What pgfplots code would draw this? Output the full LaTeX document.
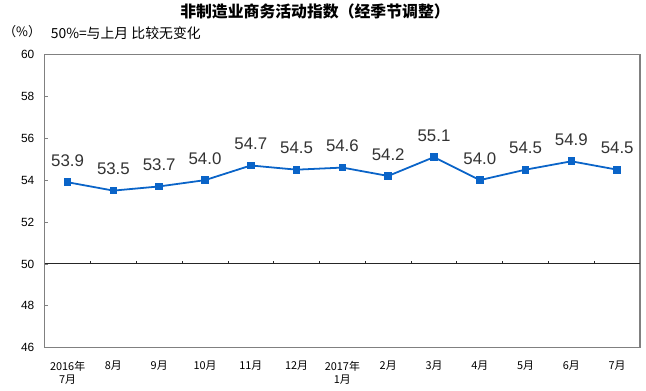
\documentclass[border=0pt]{standalone}
\usepackage{pgfplots}
\pgfplotsset{compat=1.18}
\usepackage{fontspec}
\setmainfont{Liberation Sans}
\newfontfamily\cjk{Noto Sans CJK SC}
\definecolor{lineblue}{HTML}{0A64C8}
\definecolor{boxgray}{HTML}{808080}
\definecolor{lblgray}{HTML}{333333}
\begin{document}
\begin{tikzpicture}
\begin{axis}[
 scale only axis, width=601bp, height=296bp,
 xmin=-0.5, xmax=12.5, ymin=46, ymax=60,
 ytick={46,48,...,60},
 xtick={0,...,12},
 xticklabels={{2016年\\7月},8月,9月,10月,11月,12月,{2017年\\1月},2月,3月,4月,5月,6月,7月},
 xticklabel style={font=\cjk\fontsize{11bp}{13bp}\selectfont, align=center, anchor=north, yshift=-10bp},
 x tick style={draw=none},
 major tick length=3bp,
 ytick pos=left, tick align=inside,
 y tick style={boxgray, line width=0.8bp},
 yticklabel style={font=\fontsize{12bp}{14bp}\selectfont, xshift=-7bp},
 /pgf/number format/assume math mode=true,
 axis line style={boxgray, line width=1.2bp},
 clip=false,
 nodes near coords,
 point meta=y,
 nodes near coords style={/pgf/number format/fixed, /pgf/number format/fixed zerofill, /pgf/number format/precision=1, font=\fontsize{17bp}{19bp}\selectfont, text=lblgray, inner sep=0pt, yshift=15bp},
]
\draw[black!85, line width=1bp] (axis cs:-0.5,50) -- (axis cs:12.5,50);
\pgfplotsinvokeforeach{0.5,1.5,2.5,3.5,4.5,5.5,6.5,7.5,8.5,9.5,10.5,11.5}{
  \draw[black!85, line width=0.8bp] (axis cs:#1,50) -- ([yshift=3bp]axis cs:#1,50);
}
\addplot[color=lineblue, line width=1.8bp, mark=square*, mark size=3bp, mark options={fill=lineblue, draw=lineblue}]
coordinates {
(0,53.9) (1,53.5) (2,53.7) (3,54.0) (4,54.7) (5,54.5) (6,54.6)
(7,54.2) (8,55.1) (9,54.0) (10,54.5) (11,54.9) (12,54.5)
};
\node[font=\cjk\bfseries\fontsize{16bp}{18bp}\selectfont, anchor=center] at (axis description cs:0.454,1.145) {非制造业商务活动指数（经季节调整）};
\node[font=\cjk\fontsize{13bp}{15bp}\selectfont, anchor=center] at (axis description cs:-0.038,1.078) {（\%）};
\node[font=\cjk\fontsize{14bp}{16bp}\selectfont, anchor=west, inner sep=0pt] at (axis description cs:0.01,1.074) {50\%=与上月 比较无变化};
\end{axis}
\path ([shift={(-39bp,-43bp)}]current axis.south west) rectangle ++(646bp,394bp);
\end{tikzpicture}
\end{document}
